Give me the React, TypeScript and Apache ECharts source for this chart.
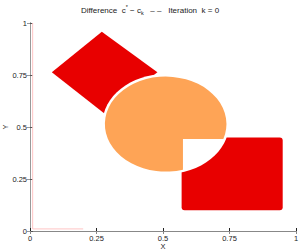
import { useEffect, useRef } from "react";
import * as echarts from "echarts";

// Tick values on both axes
const ticks = [0, 0.25, 0.5, 0.75, 1];

// Red rotated square (vertices: top, right, bottom, left)
const diamondX = [0.27, 0.479, 0.282, 0.082];
const diamondY = [0.958, 0.763, 0.562, 0.763];

// Red rounded rectangle (x range, y range)
const rectX = [0.57, 0.95];
const rectY = [0.1, 0.45];

// Orange disc with a notch cut out of its lower-right
const blobCenter = [0.51, 0.514];
const blobRadius = 0.2285;
const notchCorner = [0.575, 0.442];

// Faint pink boundary trace
const edgeX = [0.01, 0.01, 0.2];
const edgeY = [1, 0.01, 0.01];

export default function App() {
  const ref = useRef<HTMLDivElement>(null);
  useEffect(() => {
    const chart = echarts.init(ref.current!, null, { renderer: "svg" });
    const font = "'Liberation Sans', Arial, Helvetica, sans-serif";
    const red = "#e80000";
    const orange = "#fea456";
    const gapPx = 2.5;
    const txt = "#222";

    const axisBase = {
      type: "value",
      min: 0,
      max: 1,
      interval: 0.25,
      splitLine: { show: false },
    };

    chart.setOption({
      animation: false,
      grid: { left: 30, right: 4, top: 23, bottom: 21, containLabel: false, outerBoundsMode: "none" },
      title: {
        text: "Difference  c{sup|*} − c{sub|k}   – –   Iteration  k = 0",
        left: "center",
        top: 4,
        padding: [0, 0, 0, 26],
        textStyle: {
          fontSize: 8,
          fontWeight: "normal",
          fontFamily: font,
          color: txt,
          lineHeight: 12,
          rich: {
            sup: { fontSize: 5.5, fontFamily: font, color: txt, verticalAlign: "top", lineHeight: 6 },
            sub: { fontSize: 5.5, fontFamily: font, color: txt, verticalAlign: "bottom", lineHeight: 6 },
          },
        },
      },
      xAxis: [
        {
          ...axisBase,
          position: "bottom",
          axisLine: { show: true, lineStyle: { color: "#222", width: 1 } },
          axisTick: { show: true, inside: true, length: 3, lineStyle: { color: "#222" } },
          axisLabel: {
            fontSize: 7.5,
            lineHeight: 8,
            color: txt,
            margin: 3,
            fontFamily: font,
            formatter: (v: number) => (ticks.includes(v) ? String(v) : ""),
          },
          name: "X",
          nameLocation: "middle",
          nameGap: 11,
          nameMoveOverlap: false,
          nameTextStyle: { fontSize: 7.5, color: txt, fontFamily: font, lineHeight: 8 },
        },
        {
          ...axisBase,
          position: "top",
          axisLine: { show: true, lineStyle: { color: "#888", width: 1 } },
          axisTick: { show: true, inside: true, length: 3, lineStyle: { color: "#888" } },
          axisLabel: { show: false },
        },
      ],
      yAxis: [
        {
          ...axisBase,
          position: "left",
          axisLine: { show: true, lineStyle: { color: "#555", width: 1 } },
          axisTick: { show: true, inside: true, length: 3, lineStyle: { color: "#555" } },
          axisLabel: {
            fontSize: 7.5,
            lineHeight: 8,
            color: txt,
            margin: 3,
            fontFamily: font,
            formatter: (v: number) => (ticks.includes(v) ? String(v) : ""),
          },
          name: "Y",
          nameLocation: "middle",
          nameGap: 20,
          nameMoveOverlap: false,
          nameTextStyle: { fontSize: 7.5, color: txt, fontFamily: font, lineHeight: 9 },
        },
        {
          ...axisBase,
          position: "right",
          axisLine: { show: true, lineStyle: { color: "#999", width: 1 } },
          axisTick: { show: true, inside: true, length: 3, lineStyle: { color: "#999" } },
          axisLabel: { show: false },
        },
      ],
      series: [
        {
          type: "custom",
          silent: true,
          data: diamondX.map((x, i) => [x, diamondY[i]]),
          renderItem: (params: any, api: any) => {
            if (params.dataIndex !== 0) return null;
            const pts = diamondX.map((x, i) => api.coord([x, diamondY[i]]));
            return { type: "polygon", shape: { points: pts }, style: { fill: red } };
          },
        },
        {
          type: "custom",
          silent: true,
          data: [[rectX[0], rectY[0]]],
          renderItem: (params: any, api: any) => {
            const p0 = api.coord([rectX[0], rectY[1]]);
            const p1 = api.coord([rectX[1], rectY[0]]);
            return {
              type: "rect",
              shape: { x: p0[0], y: p0[1], width: p1[0] - p0[0], height: p1[1] - p0[1], r: 3 },
              style: { fill: red },
            };
          },
        },
        {
          type: "custom",
          silent: true,
          data: [blobCenter],
          renderItem: (params: any, api: any) => {
            const c = api.coord(blobCenter);
            const sz = api.size([blobRadius, blobRadius]);
            const rx = sz[0];
            const ry = sz[1];
            const n = api.coord(notchCorner);
            const y1 = c[1] + ry * Math.sqrt(Math.max(0, 1 - ((n[0] - c[0]) / rx) ** 2));
            const x3 = c[0] + rx * Math.sqrt(Math.max(0, 1 - ((n[1] - c[1]) / ry) ** 2));
            const d = `M${x3} ${n[1]} L${n[0]} ${n[1]} L${n[0]} ${y1} A${rx} ${ry} 0 1 1 ${x3} ${n[1]} Z`;
            return {
              type: "group",
              children: [
                {
                  type: "ellipse",
                  shape: { cx: c[0], cy: c[1], rx: rx + gapPx, ry: ry + gapPx },
                  style: { fill: "#ffffff" },
                },
                { type: "path", shape: { pathData: d }, style: { fill: orange } },
              ],
            };
          },
        },
        {
          type: "line",
          silent: true,
          symbol: "none",
          data: edgeX.map((x, i) => [x, edgeY[i]]),
          lineStyle: { color: "#ffc4c4", width: 1 },
        },
      ],
    });
    return () => chart.dispose();
  }, []);
  return (
    <div
      ref={ref}
      style={{ position: "fixed", left: 0, top: 0, width: 300, height: 252, background: "#fff" }}
    />
  );
}
